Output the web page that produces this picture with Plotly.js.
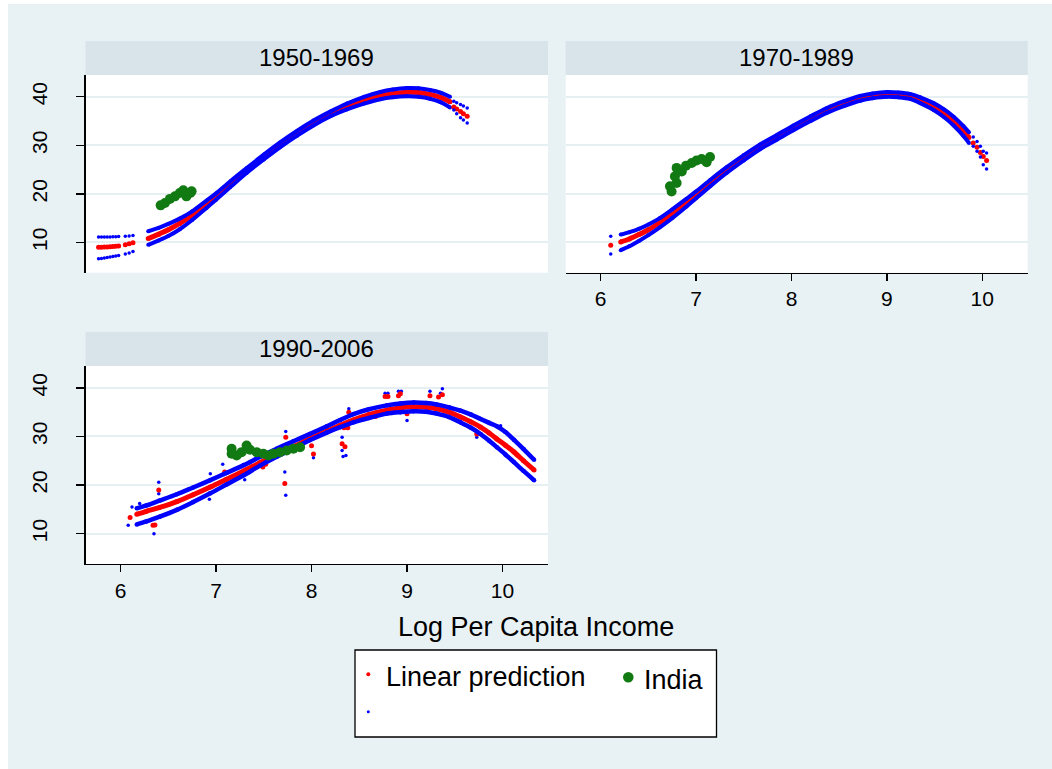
<!DOCTYPE html>
<html>
<head>
<meta charset="utf-8">
<script src="https://cdn.plot.ly/plotly-3.0.1.min.js"></script>
<style>html,body{margin:0;padding:0;background:#fff;}#chart{width:1052px;height:769px;}</style>
</head>
<body>
<div id="chart"></div>
<script>
// ---------- Panel titles / ticks ----------
const panelTitles = ["1950-1969", "1970-1989", "1990-2006"];
const xTicks = [6, 7, 8, 9, 10];
const yTicks = [10, 20, 30, 40];
const xTitle = "Log Per Capita Income";
const legendLabels = ["Linear prediction", "India"];

// ---------- Panel 1: 1950-1969 ----------
const p1SegAX = [5.77, 5.80, 5.83, 5.86, 5.89, 5.92, 5.95, 5.98, 6.05, 6.09, 6.13];
const p1SegAPred = [9.0, 9.0, 9.05, 9.05, 9.1, 9.15, 9.2, 9.25, 9.5, 9.7, 9.9];
const p1SegAUp = [11.1, 11.1, 11.1, 11.1, 11.1, 11.15, 11.15, 11.2, 11.25, 11.3, 11.4];
const p1SegALo = [6.6, 6.7, 6.8, 6.9, 7.0, 7.1, 7.2, 7.3, 7.6, 7.8, 8.1];

const p1X = [6.29, 6.4, 6.5, 6.62, 6.75, 6.9, 7.0, 7.15, 7.32, 7.5, 7.67, 7.85, 8.02, 8.2, 8.37, 8.55, 8.72, 8.85, 9.0, 9.12, 9.24, 9.35, 9.45];
const p1Pred = [10.8, 11.7, 12.6, 13.9, 15.6, 17.9, 19.5, 22.0, 24.8, 27.6, 30.1, 32.5, 34.6, 36.5, 38.0, 39.3, 40.2, 40.65, 40.95, 40.9, 40.5, 39.9, 39.0];
const p1Up = [12.3, 13.0, 13.8, 14.9, 16.4, 18.6, 20.1, 22.6, 25.3, 28.1, 30.6, 33.0, 35.1, 37.0, 38.6, 40.0, 41.0, 41.5, 41.8, 41.75, 41.4, 40.85, 40.0];
const p1Lo = [9.5, 10.4, 11.3, 12.7, 14.6, 17.1, 18.8, 21.4, 24.3, 27.1, 29.6, 32.0, 34.1, 36.0, 37.4, 38.6, 39.5, 39.9, 40.1, 40.0, 39.6, 38.9, 37.8];

const p1SegBX = [9.49, 9.52, 9.56, 9.59, 9.63];
const p1SegBPred = [37.9, 37.5, 37.0, 36.5, 36.0];
const p1SegBUp = [39.1, 38.8, 38.4, 38.1, 37.7];
const p1SegBLo = [37.3, 36.5, 35.7, 35.2, 34.6];

const p1IndiaX = [6.42, 6.465, 6.517, 6.57, 6.62, 6.657, 6.69, 6.73, 6.744];
const p1IndiaY = [17.63, 18.13, 18.96, 19.49, 20.19, 20.73, 19.49, 20.19, 20.52];

// ---------- Panel 2: 1970-1989 ----------
const p2SegAX = [6.105];
const p2SegAPred = [9.4];
const p2SegAUp = [11.25];
const p2SegALo = [7.6];

const p2X = [6.21, 6.3, 6.4, 6.5, 6.62, 6.75, 6.9, 7.0, 7.15, 7.32, 7.5, 7.67, 7.85, 8.02, 8.2, 8.37, 8.55, 8.72, 8.85, 9.0, 9.12, 9.24, 9.35, 9.49, 9.6, 9.7, 9.8, 9.86];
const p2Pred = [10.1, 10.7, 11.6, 12.6, 14.1, 15.9, 18.2, 19.8, 22.3, 24.9, 27.5, 29.7, 31.7, 33.6, 35.5, 37.2, 38.6, 39.7, 40.2, 40.5, 40.4, 40.1, 39.3, 38.0, 36.6, 35.0, 33.0, 31.6];
const p2Up = [11.6, 12.1, 12.8, 13.7, 15.0, 16.8, 19.0, 20.5, 22.9, 25.5, 28.0, 30.2, 32.2, 34.1, 36.0, 37.7, 39.1, 40.2, 40.7, 41.0, 40.9, 40.6, 39.9, 38.7, 37.4, 35.9, 34.0, 32.7];
const p2Lo = [8.4, 9.2, 10.3, 11.5, 13.1, 15.0, 17.4, 19.1, 21.6, 24.3, 26.9, 29.2, 31.2, 33.1, 35.0, 36.7, 38.1, 39.2, 39.7, 40.0, 39.9, 39.6, 38.7, 37.3, 35.8, 34.1, 32.0, 30.5];

const p2SegBX = [9.905, 9.945, 9.98, 10.01, 10.045];
const p2SegBPred = [30.5, 29.6, 28.5, 27.7, 26.9];
const p2SegBUp = [31.7, 30.8, 29.8, 28.8, 28.4];
const p2SegBLo = [29.8, 28.8, 27.6, 26.0, 25.1];

const p2IndiaX = [6.743, 6.726, 6.796, 6.778, 6.796, 6.85, 6.894, 6.954, 7.006, 7.058, 7.11, 7.146];
const p2IndiaY = [20.5, 21.55, 22.25, 23.6, 25.35, 24.6, 25.8, 26.35, 26.9, 27.2, 26.5, 27.6];

// ---------- Panel 3: 1990-2006 ----------
const p3X = [6.17, 6.27, 6.41, 6.59, 6.76, 6.94, 7.11, 7.29, 7.46, 7.64, 7.81, 7.98, 8.16, 8.3, 8.44, 8.6, 8.79, 8.93, 9.07, 9.2, 9.31, 9.44, 9.56, 9.67, 9.77, 9.86, 9.94, 10.03, 10.12, 10.22, 10.33];
const p3Pred = [14.0, 14.6, 15.4, 16.6, 18.0, 19.6, 21.2, 22.9, 24.6, 26.3, 27.9, 29.5, 31.1, 32.3, 33.4, 34.5, 35.4, 35.9, 36.1, 36.0, 35.7, 35.0, 34.0, 33.0, 31.9, 30.7, 29.5, 28.2, 26.8, 25.0, 23.1];
const p3Up = [15.2, 15.8, 16.8, 18.1, 19.5, 21.0, 22.5, 24.1, 25.8, 27.5, 29.0, 30.5, 32.1, 33.4, 34.6, 35.6, 36.4, 36.8, 37.0, 36.9, 36.6, 36.0, 35.3, 34.5, 33.6, 32.8, 32.1, 30.9, 29.3, 27.4, 25.2];
const p3Lo = [11.9, 12.5, 13.5, 14.9, 16.5, 18.3, 20.1, 22.0, 24.0, 25.9, 27.5, 29.2, 30.8, 31.9, 32.9, 33.8, 34.7, 35.0, 35.2, 35.1, 34.7, 34.0, 32.9, 31.8, 30.5, 29.1, 27.8, 26.3, 24.7, 22.9, 21.0];

const p3OutPredX = [6.10, 6.34, 6.36, 6.40, 7.09, 7.49, 7.52, 7.72, 7.73, 8.00, 8.02, 8.32, 8.35, 8.34, 8.38, 8.39, 8.77, 8.80, 8.91, 8.93, 9.24, 9.33, 9.37, 8.67, 9.0, 9.73];
const p3OutPredY = [13.3, 11.7, 11.8, 19.0, 22.7, 23.7, 24.3, 20.3, 29.85, 28.1, 26.4, 28.5, 27.9, 31.8, 31.8, 35.0, 38.2, 38.2, 38.4, 38.8, 38.4, 38.1, 38.6, 34.1, 34.65, 30.5];
const p3OutCiX = [6.08, 6.12, 6.20, 6.35, 6.40, 6.40, 6.94, 7.30, 7.07, 7.72, 7.73, 7.73, 8.02, 8.32, 8.33, 8.36, 8.32, 8.39, 8.77, 8.80, 8.91, 8.94, 9.24, 9.37, 9.35, 9.0, 9.73, 9.98, 10.13, 6.93];
const p3OutCiY = [11.7, 15.5, 16.2, 10.0, 20.6, 18.2, 22.3, 21.1, 24.3, 22.7, 17.9, 31.0, 25.6, 27.1, 25.9, 26.1, 29.85, 35.7, 38.9, 38.9, 39.3, 39.3, 39.3, 39.8, 38.9, 33.3, 29.85, 32.2, 29.2, 17.1];

const p3IndiaX = [7.163, 7.163, 7.216, 7.268, 7.32, 7.355, 7.425, 7.495, 7.547, 7.6, 7.67, 7.74, 7.81, 7.88];
const p3IndiaY = [27.46, 26.44, 26.09, 26.77, 28.14, 27.26, 26.77, 26.44, 26.09, 26.44, 26.77, 27.11, 27.46, 27.79];

// ---------- Styles ----------
const RED = "#ff0000", BLUE = "#0000ff", GREEN = "#127a12";
const FONT = "Liberation Sans, Arial, sans-serif";
const W = 1052, H = 769;
const px = v => v / W;
const py = v => 1 - v / H;

function band(xs, ys, color, width, msize, xa, ya) {
  return {x: xs, y: ys, type: "scatter", mode: "lines+markers", xaxis: xa, yaxis: ya,
    line: {color: color, width: width, shape: "spline", smoothing: 0.8},
    marker: {color: color, size: msize}, showlegend: false, hoverinfo: "skip"};
}
function dots(xs, ys, color, msize, xa, ya) {
  return {x: xs, y: ys, type: "scatter", mode: "markers", xaxis: xa, yaxis: ya,
    marker: {color: color, size: msize}, showlegend: false, hoverinfo: "skip"};
}

const traces = [];
function addPanel(xa, ya, segs, india, bw) {
  segs.forEach(s => {
    if (s.line) {
      traces.push(band(s.x, s.pred, RED, 5, 5, xa, ya));
      traces.push(band(s.x, s.up, BLUE, bw, bw, xa, ya));
      traces.push(band(s.x, s.lo, BLUE, bw, bw, xa, ya));
    } else {
      traces.push(dots(s.x, s.pred, RED, 5, xa, ya));
      traces.push(dots(s.x, s.up, BLUE, 3.5, xa, ya));
      traces.push(dots(s.x, s.lo, BLUE, 3.5, xa, ya));
    }
  });
  traces.push(dots(india.x, india.y, GREEN, 10, xa, ya));
}

addPanel("x", "y", [
  {x: p1SegAX, pred: p1SegAPred, up: p1SegAUp, lo: p1SegALo, line: false},
  {x: p1X, pred: p1Pred, up: p1Up, lo: p1Lo, line: true},
  {x: p1SegBX, pred: p1SegBPred, up: p1SegBUp, lo: p1SegBLo, line: false}
], {x: p1IndiaX, y: p1IndiaY}, 4);

addPanel("x2", "y2", [
  {x: p2SegAX, pred: p2SegAPred, up: p2SegAUp, lo: p2SegALo, line: false},
  {x: p2X, pred: p2Pred, up: p2Up, lo: p2Lo, line: true},
  {x: p2SegBX, pred: p2SegBPred, up: p2SegBUp, lo: p2SegBLo, line: false}
], {x: p2IndiaX, y: p2IndiaY}, 4);

traces.push(dots(p3OutCiX, p3OutCiY, BLUE, 3.5, "x3", "y3"));
traces.push(dots(p3OutPredX, p3OutPredY, RED, 5, "x3", "y3"));
addPanel("x3", "y3", [
  {x: p3X, pred: p3Pred, up: p3Up, lo: p3Lo, line: true}
], {x: p3IndiaX, y: p3IndiaY}, 4.5);

// ---------- Layout ----------
const XR = [5.633, 10.476];
const YR = [3.75, 44.5];
const D_LEFT = [px(85.5), px(548)];
const D_RIGHT = [px(565.7), px(1027.7)];
const D_TOP = [py(272.7), py(75)];
const D_BOT = [py(564), py(366)];
const GRID = "#e6eff2";
const tickFont = {family: FONT, size: 21, color: "#000"};

function xax(domain, anchor, show) {
  return {domain: domain, anchor: anchor, range: XR, tickvals: xTicks, ticktext: xTicks.map(String),
    showticklabels: show, ticks: show ? "outside" : "", ticklen: 7, tickwidth: 1.3, tickcolor: "#000",
    showline: show, linecolor: "#000", linewidth: 1.3, showgrid: false, zeroline: false,
    tickfont: tickFont, fixedrange: true};
}
function yax(domain, anchor, show) {
  return {domain: domain, anchor: anchor, range: YR, tickvals: yTicks, ticktext: yTicks.map(String),
    showticklabels: show, ticks: show ? "outside" : "", ticklen: 8, tickwidth: 1.3, tickcolor: "#000",
    tickangle: -90, ticklabelstandoff: 21,
    showline: show, linecolor: "#000", linewidth: 1.3, showgrid: true, gridcolor: GRID, gridwidth: 2,
    zeroline: false, tickfont: tickFont, fixedrange: true};
}

const STRIP = "#d8e4ea";
const shapes = [
  {type: "rect", xref: "paper", yref: "paper", x0: 0, x1: 1, y0: py(4), y1: 1, fillcolor: "#fff", line: {width: 0}, layer: "below"},
  {type: "rect", xref: "paper", yref: "paper", x0: 0, x1: px(8), y0: 0, y1: 1, fillcolor: "#fff", line: {width: 0}, layer: "below"},
  {type: "rect", xref: "paper", yref: "paper", x0: D_LEFT[0], x1: D_LEFT[1], y0: py(75), y1: py(41), fillcolor: STRIP, line: {width: 0}, layer: "below"},
  {type: "rect", xref: "paper", yref: "paper", x0: D_RIGHT[0], x1: D_RIGHT[1], y0: py(75), y1: py(41), fillcolor: STRIP, line: {width: 0}, layer: "below"},
  {type: "rect", xref: "paper", yref: "paper", x0: D_LEFT[0], x1: D_LEFT[1], y0: py(366), y1: py(332), fillcolor: STRIP, line: {width: 0}, layer: "below"},
  {type: "rect", xref: "paper", yref: "paper", x0: px(355), x1: px(716.5), y0: py(737), y1: py(650), fillcolor: "#fff", line: {color: "#000", width: 1.3}, layer: "above"},
  {type: "circle", xref: "paper", yref: "paper", x0: px(366.3), x1: px(370.3), y0: py(676.3), y1: py(672.3), fillcolor: RED, line: {width: 0}, layer: "above"},
  {type: "circle", xref: "paper", yref: "paper", x0: px(623), x1: px(633.6), y0: py(682.6), y1: py(672), fillcolor: GREEN, line: {width: 0}, layer: "above"},
  {type: "circle", xref: "paper", yref: "paper", x0: px(366.8), x1: px(369.8), y0: py(713.2), y1: py(710.2), fillcolor: BLUE, line: {width: 0}, layer: "above"}
];

const annFont = {family: FONT, size: 24, color: "#000"};
const bigFont = {family: FONT, size: 27, color: "#000"};
const annotations = [
  {text: panelTitles[0], xref: "paper", yref: "paper", x: (D_LEFT[0] + D_LEFT[1]) / 2, y: py(57.5), xanchor: "center", yanchor: "middle", showarrow: false, font: annFont},
  {text: panelTitles[1], xref: "paper", yref: "paper", x: (D_RIGHT[0] + D_RIGHT[1]) / 2, y: py(57.5), xanchor: "center", yanchor: "middle", showarrow: false, font: annFont},
  {text: panelTitles[2], xref: "paper", yref: "paper", x: (D_LEFT[0] + D_LEFT[1]) / 2, y: py(348), xanchor: "center", yanchor: "middle", showarrow: false, font: annFont},
  {text: xTitle, xref: "paper", yref: "paper", x: px(536), y: py(627), xanchor: "center", yanchor: "middle", showarrow: false, font: bigFont},
  {text: legendLabels[0], xref: "paper", yref: "paper", x: px(384), y: py(677), xanchor: "left", yanchor: "middle", showarrow: false, font: bigFont},
  {text: legendLabels[1], xref: "paper", yref: "paper", x: px(642), y: py(680), xanchor: "left", yanchor: "middle", showarrow: false, font: bigFont}
];

const layout = {
  width: W, height: H,
  margin: {l: 0, r: 0, t: 0, b: 0, pad: 0},
  paper_bgcolor: "#e8f1f4",
  plot_bgcolor: "#ffffff",
  showlegend: false,
  font: {family: FONT, color: "#000"},
  xaxis: xax(D_LEFT, "y", false),
  yaxis: yax(D_TOP, "x", true),
  xaxis2: xax(D_RIGHT, "y2", true),
  yaxis2: yax(D_TOP, "x2", false),
  xaxis3: xax(D_LEFT, "y3", true),
  yaxis3: yax(D_BOT, "x3", true),
  shapes: shapes,
  annotations: annotations
};

Plotly.newPlot("chart", traces, layout, {displayModeBar: false, staticPlot: true});
</script>
</body>
</html>
